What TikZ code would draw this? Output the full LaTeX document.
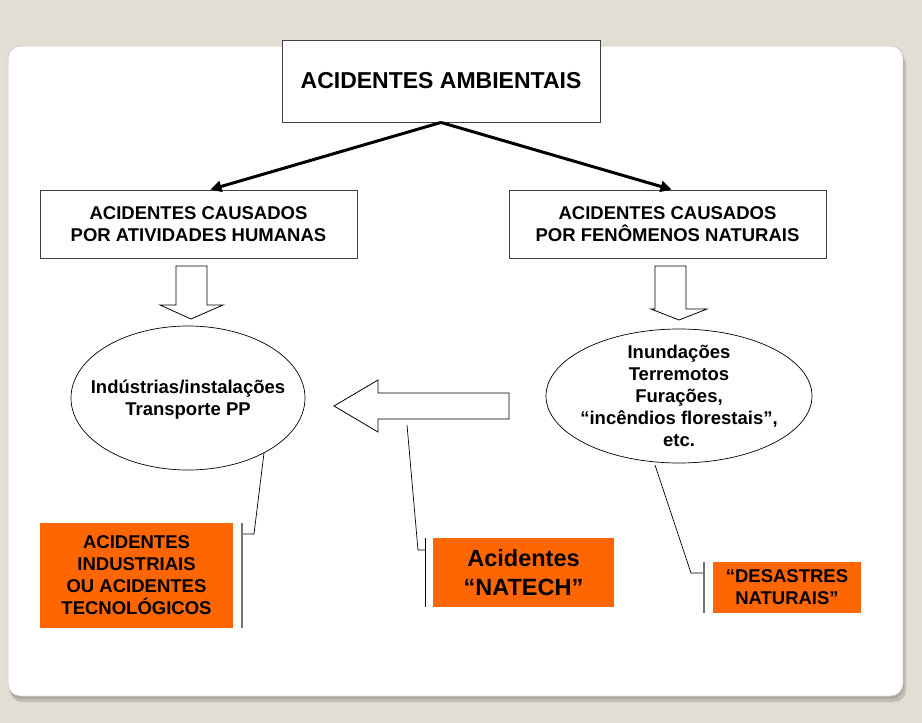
\documentclass[tikz,border=0pt]{standalone}
\usepackage{fontspec}
\setmainfont{Liberation Sans}
\usetikzlibrary{arrows.meta}
\definecolor{bgbeige}{HTML}{E3DED3}
\definecolor{shadowc}{HTML}{ACA9A1}
\definecolor{orng}{HTML}{FF6600}
\tikzset{
  txt/.style={inner sep=0pt, align=center, font=\bfseries\fontsize{18.5}{22}\selectfont},
  box/.style={txt, draw=black!75, line width=0.9pt, fill=white},
  ovalline/.style={draw=black, line width=0.7pt, fill=white},
  obox/.style={txt, fill=orng},
  conn/.style={line width=3pt, -{Triangle[length=11pt,width=11pt]}},
  blockarrow/.style={draw=black, line width=0.8pt, fill=white},
  callout/.style={draw=black, line width=0.7pt},
  cbar/.style={draw=black!55, line width=2pt},
}
\begin{document}
\begin{tikzpicture}[x=1pt,y=-1pt]
\useasboundingbox (0,0) rectangle (922,723);
\fill[bgbeige] (0,0) rectangle (922,723);
% panel
\fill[shadowc!60!bgbeige, rounded corners=12pt] (10,52) rectangle (906,702);
\fill[shadowc, rounded corners=12pt] (9,49) rectangle (904,699);
\fill[white, draw=black!25, line width=0.5pt, rounded corners=12pt] (8,46) rectangle (903,696);

% top box
\node[box, minimum width=318pt, minimum height=82pt, font=\bfseries\fontsize{23}{26}\selectfont] (top) at (441,81) {ACIDENTES AMBIENTAIS};
% second level
\node[box, minimum width=317pt, minimum height=68pt] (L) at (198.5,224) {ACIDENTES CAUSADOS\\POR ATIVIDADES HUMANAS};
\node[box, minimum width=317pt, minimum height=68pt] (R) at (667.5,224) {ACIDENTES CAUSADOS\\POR FENÔMENOS NATURAIS};

\draw[conn] (top.south) -- ([xshift=12pt]L.north);
\draw[conn] (top.south) -- ([xshift=4pt]R.north);

% down block arrows
\draw[blockarrow] (176,266) -- (207,266) -- (207,305) -- (223,305) -- (191,319) -- (160,305) -- (176,305) -- cycle;
\draw[blockarrow] (655,266) -- (686,266) -- (686,309) -- (707,309) -- (679,320) -- (651,309) -- (655,309) -- cycle;

% ellipses
\draw[ovalline] (188,398) ellipse [x radius=117, y radius=72];
\node[txt] (EL) at (188,400) {Indústrias/instalações\\Transporte PP};
\draw[ovalline] (679,396) ellipse [x radius=133, y radius=67];
\node[txt] (ER) at (679,396) {Inundações\\Terremotos\\Furações,\\“incêndios florestais”,\\etc.};

% NATECH arrow
\draw[blockarrow] (509,393) -- (378,393) -- (378,380) -- (334,406) -- (378,432) -- (378,419) -- (509,419) -- cycle;

% orange boxes
\node[obox, minimum width=193pt, minimum height=105pt] (OL) at (136.5,575.5) {ACIDENTES\\INDUSTRIAIS\\OU ACIDENTES\\TECNOLÓGICOS};
\node[obox, minimum width=181pt, minimum height=69pt, font=\bfseries\fontsize{23.5}{29}\selectfont] (ON) at (523.5,572.5) {Acidentes\\“NATECH”};
\node[obox, minimum width=148pt, minimum height=51pt] (OR) at (787,587.5) {“DESASTRES\\NATURAIS”};

% callouts
\coordinate (cl1) at (264,453);
\coordinate (cl2) at (254,534);
\draw[callout] (cl1) -- (cl2) -- (242,534);
\draw[cbar] (242,523) -- (242,628);

\coordinate (cn1) at (407,425);
\coordinate (cn2) at (418,550);
\draw[callout] (cn1) -- (cn2) -- (425,550);
\draw[callout] (425,538) -- (425,607);

\coordinate (cr1) at (655,465);
\coordinate (cr2) at (691,573);
\draw[callout] (cr1) -- (cr2) -- (704,573);
\draw[cbar] (704,562) -- (704,613);
\end{tikzpicture}
\end{document}
